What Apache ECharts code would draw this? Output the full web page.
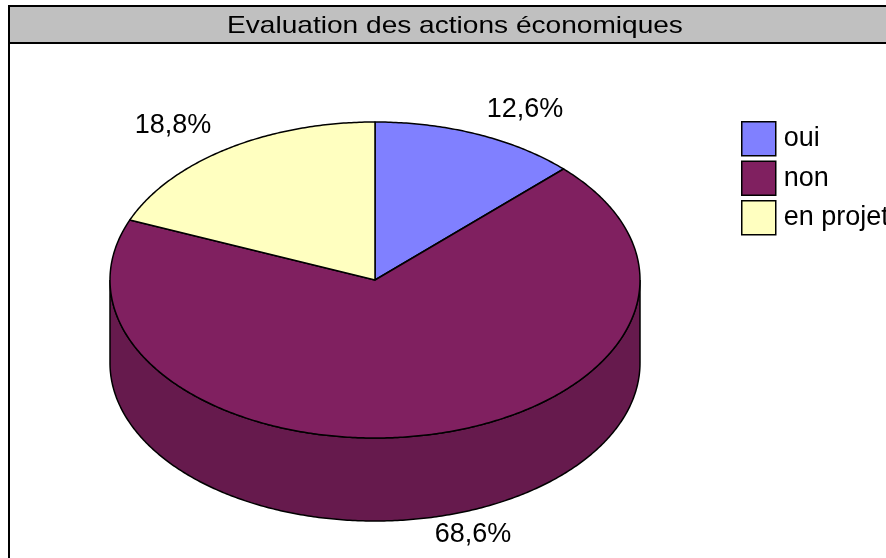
<!DOCTYPE html>
<html>
<head>
<meta charset="utf-8">
<script src="https://cdn.jsdelivr.net/npm/echarts@6/dist/echarts.min.js"></script>
<style>
html, body { margin: 0; padding: 0; background: #fff; }
#main { width: 886px; height: 558px; }
</style>
</head>
<body>
<div id="main"></div>
<script>
var categories = ['oui', 'non', 'en projet'];
var shares = [12.6, 68.6, 18.8];
var titleText = 'Evaluation des actions économiques';

// couleurs style Excel
var topColors = ['#8080ff', '#802060', '#ffffc0'];
var sideColors = ['#6666cc', '#661a4d', '#cccc9a'];

// ellipse du camembert 3D
var CX = 375, CY = 280, RX = 265, RY = 158, DEPTH = 83;
var FONT = "'Liberation Sans', Arial, sans-serif";
// positions des etiquettes (mise en page)
var labelPos = [[525, 110], [473, 535], [173, 126]];

var total = shares.reduce(function (a, b) { return a + b; }, 0);

function pt(a, dy) {
	return [CX + RX * Math.sin(a), CY - RY * Math.cos(a) + (dy || 0)];
}

function arc(a0, a1, dy) {
	var pts = [];
	var n = Math.max(2, Math.ceil(Math.abs(a1 - a0) / 0.01));
	for (var k = 0; k <= n; k++) {
		pts.push(pt(a0 + (a1 - a0) * k / n, dy));
	}
	return pts;
}

function renderSlice(idx) {
	return function (params, api) {
		var before = 0;
		for (var j = 0; j < idx; j++) before += shares[j];
		var a0 = before / total * Math.PI * 2;
		var a1 = (before + api.value(0)) / total * Math.PI * 2;
		var children = [];

		// paroi avant (entre 90 et 270 degres)
		var s = Math.max(a0, Math.PI / 2), e = Math.min(a1, Math.PI * 3 / 2);
		if (e > s) {
			var side = arc(s, e, 0).concat(arc(e, s, DEPTH));
			children.push({
				type: 'polygon',
				z2: 1,
				shape: { points: side },
				style: { fill: sideColors[idx], stroke: '#000', lineWidth: 1.5 }
			});
		}

		// dessus
		var top = [[CX, CY]].concat(arc(a0, a1, 0));
		children.push({
			type: 'polygon',
			z2: 5,
			shape: { points: top },
			style: { fill: topColors[idx], stroke: '#000', lineWidth: 1.5, lineJoin: 'round' }
		});

		children.push({
			type: 'text',
			z2: 10,
			x: labelPos[idx][0],
			y: labelPos[idx][1],
			style: {
				text: api.value(0).toFixed(1).replace('.', ',') + '%',
				fill: '#000',
				font: '27px ' + FONT,
				align: 'center',
				verticalAlign: 'middle'
			}
		});
		return { type: 'group', children: children };
	};
}

var series = categories.map(function (name, i) {
	return {
		name: name,
		type: 'custom',
		coordinateSystem: 'none',
		silent: true,
		itemStyle: { color: topColors[i] },
		data: [[shares[i]]],
		renderItem: renderSlice(i)
	};
});

var chart = echarts.init(document.getElementById('main'));
var option = {
	animation: false,
	backgroundColor: '#fff',
	graphic: [
		{
			type: 'rect',
			z: 0,
			shape: { x: 9, y: 6, width: 1000, height: 1000 },
			style: { fill: '#fff', stroke: '#000', lineWidth: 2 }
		},
		{
			type: 'rect',
			z: 1,
			shape: { x: 9, y: 6, width: 1000, height: 37 },
			style: { fill: '#c0c0c0', stroke: '#000', lineWidth: 2 }
		},
		{
			type: 'text',
			z: 2,
			x: 455,
			y: 26,
			scaleX: 1.17,
			style: {
				text: titleText,
				fill: '#000',
				font: '24px ' + FONT,
				align: 'center',
				verticalAlign: 'middle'
			}
		}
	],
	legend: {
		data: categories,
		orient: 'vertical',
		left: 741,
		top: 121,
		padding: 0,
		icon: 'rect',
		itemWidth: 34,
		itemHeight: 34,
		itemGap: 4,
		selectedMode: false,
		itemStyle: { borderColor: '#000', borderWidth: 1.5 },
		textStyle: { color: '#000', fontSize: 27, fontFamily: FONT, padding: [0, 0, 0, 3] }
	},
	series: series
};
chart.setOption(option);
</script>
</body>
</html>
